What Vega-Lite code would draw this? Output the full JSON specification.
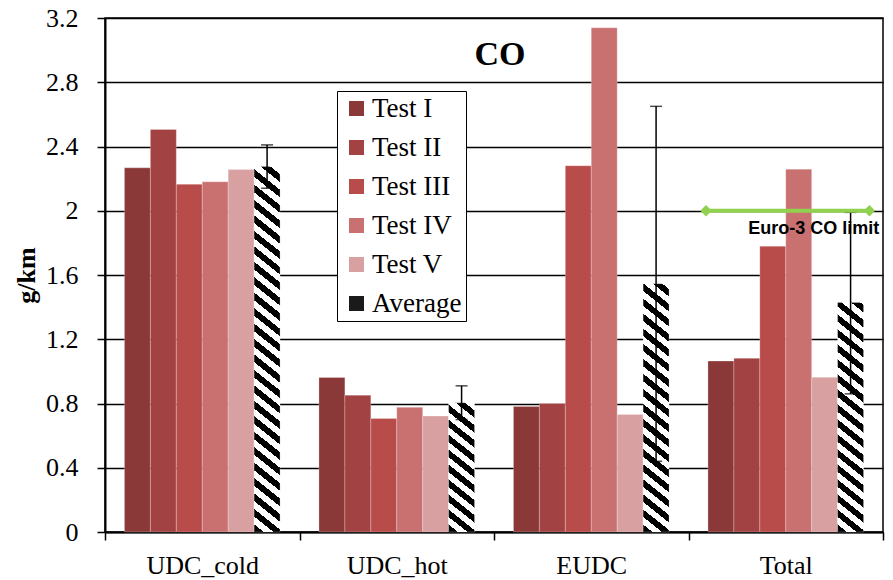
{
  "$schema": "https://vega.github.io/schema/vega-lite/v6.json",
  "width": 778,
  "height": 514,
  "autosize": {"type": "none"},
  "padding": {"left": 105, "top": 18, "right": 10, "bottom": 48},
  "background": "white",
  "config": {
    "view": {"stroke": "black", "strokeWidth": 1.5},
    "font": "Liberation Serif",
    "axis": {"labelFont": "Liberation Serif", "labelFontSize": 26, "labelColor": "black", "titleFont": "Liberation Serif", "titleColor": "black"},
    "axisY": {"labelFont": "Liberation Serif"}
  },
  "title": {"text": "CO", "font": "Liberation Serif", "fontSize": 34, "fontWeight": "bold", "color": "black", "anchor": "middle", "frame": "group", "offset": -94, "baseline": "alphabetic", "dx": 6},
  "datasets": {
    "bars": [
      {"cat": "UDC_cold", "test": "Test I", "value": 2.267},
      {"cat": "UDC_cold", "test": "Test II", "value": 2.506},
      {"cat": "UDC_cold", "test": "Test III", "value": 2.165},
      {"cat": "UDC_cold", "test": "Test IV", "value": 2.18},
      {"cat": "UDC_cold", "test": "Test V", "value": 2.257},
      {"cat": "UDC_cold", "test": "Average", "value": 2.275, "lo": 2.14, "hi": 2.41},
      {"cat": "UDC_hot", "test": "Test I", "value": 0.962},
      {"cat": "UDC_hot", "test": "Test II", "value": 0.852},
      {"cat": "UDC_hot", "test": "Test III", "value": 0.707},
      {"cat": "UDC_hot", "test": "Test IV", "value": 0.776},
      {"cat": "UDC_hot", "test": "Test V", "value": 0.722},
      {"cat": "UDC_hot", "test": "Average", "value": 0.804, "lo": 0.70, "hi": 0.91},
      {"cat": "EUDC", "test": "Test I", "value": 0.782},
      {"cat": "EUDC", "test": "Test II", "value": 0.80},
      {"cat": "EUDC", "test": "Test III", "value": 2.28},
      {"cat": "EUDC", "test": "Test IV", "value": 3.139},
      {"cat": "EUDC", "test": "Test V", "value": 0.732},
      {"cat": "EUDC", "test": "Average", "value": 1.546, "lo": 0.44, "hi": 2.65},
      {"cat": "Total", "test": "Test I", "value": 1.064},
      {"cat": "Total", "test": "Test II", "value": 1.081},
      {"cat": "Total", "test": "Test III", "value": 1.779},
      {"cat": "Total", "test": "Test IV", "value": 2.259},
      {"cat": "Total", "test": "Test V", "value": 0.963},
      {"cat": "Total", "test": "Average", "value": 1.429, "lo": 0.86, "hi": 1.99}
    ],
    "limit": [
      {"cat": "Total", "v": 2.0, "label": "Euro-3 CO limit"}
    ]
  },
  "layer": [
    {
      "data": {"name": "bars"},
      "mark": {"type": "bar", "stroke": "white", "strokeWidth": 0.5, "strokeOpacity": 0.5},
      "encoding": {
        "x": {
          "field": "cat", "type": "nominal", "sort": ["UDC_cold", "UDC_hot", "EUDC", "Total"],
          "scale": {"domain": ["UDC_cold", "UDC_hot", "EUDC", "Total"], "paddingInner": 0, "paddingOuter": 0},
          "axis": {"title": null, "labelAngle": 0, "labelFont": "Liberation Serif", "labelFontSize": 26, "labelColor": "black", "labelPadding": 12, "tickBand": "extent", "tickSize": 8, "tickColor": "black", "tickWidth": 1.5, "domainColor": "black", "domainWidth": 2}
        },
        "xOffset": {"field": "test", "type": "nominal", "scale": {"domain": ["Test I", "Test II", "Test III", "Test IV", "Test V", "Average"], "paddingInner": 0, "paddingOuter": 0.75}},
        "y": {
          "field": "value", "type": "quantitative",
          "scale": {"domain": [0, 3.2], "nice": false},
          "axis": {"title": "g/km", "values": [0, 0.4, 0.8, 1.2, 1.6, 2, 2.4, 2.8, 3.2], "format": "~g", "grid": true, "gridColor": "black", "gridWidth": 1.5, "gridOpacity": 1, "domainColor": "black", "domainWidth": 2, "tickColor": "black", "tickSize": 8, "tickWidth": 1.5, "labelFont": "Liberation Serif", "labelFontSize": 26, "labelColor": "black", "labelPadding": 19, "titleFont": "Liberation Serif", "titleFontSize": 26, "titleFontWeight": "bold", "titleColor": "black", "titlePadding": 6}
        },
        "fill": {
          "field": "test", "type": "nominal",
          "scale": {"domain": ["Test I", "Test II", "Test III", "Test IV", "Test V", "Average"], "range": ["#8A3838", "#A34242", "#B84C4A", "#C97171", "#D8A0A0", "#1a1a1a"]},
          "legend": {"title": null, "orient": "none", "legendX": 232, "legendY": 73, "strokeColor": "black", "fillColor": "white", "padding": 4, "labelFont": "Liberation Serif", "labelFontSize": 27, "labelColor": "black", "labelOffset": 2, "symbolOffset": 2, "symbolType": "square", "symbolSize": 225, "symbolStrokeWidth": 0, "rowPadding": 11,
            "encode": {
              "legend": {"update": {"strokeWidth": {"value": 1.5}}}
            }},
          "condition": [
            {"test": "datum.test==='Average'&&datum.cat==='UDC_cold'", "value": {"gradient": "linear", "x1": 0, "y1": 1, "x2": 0.0597, "y2": -0.0533, "stops": [
              {"offset": 0, "color": "#000"}, {"offset": 0.02, "color": "#000"}, {"offset": 0.02, "color": "#fff"}, {"offset": 0.04, "color": "#fff"},
              {"offset": 0.04, "color": "#000"}, {"offset": 0.06, "color": "#000"}, {"offset": 0.06, "color": "#fff"}, {"offset": 0.08, "color": "#fff"},
              {"offset": 0.08, "color": "#000"}, {"offset": 0.1, "color": "#000"}, {"offset": 0.1, "color": "#fff"}, {"offset": 0.12, "color": "#fff"},
              {"offset": 0.12, "color": "#000"}, {"offset": 0.14, "color": "#000"}, {"offset": 0.14, "color": "#fff"}, {"offset": 0.16, "color": "#fff"},
              {"offset": 0.16, "color": "#000"}, {"offset": 0.18, "color": "#000"}, {"offset": 0.18, "color": "#fff"}, {"offset": 0.2, "color": "#fff"},
              {"offset": 0.2, "color": "#000"}, {"offset": 0.22, "color": "#000"}, {"offset": 0.22, "color": "#fff"}, {"offset": 0.24, "color": "#fff"},
              {"offset": 0.24, "color": "#000"}, {"offset": 0.26, "color": "#000"}, {"offset": 0.26, "color": "#fff"}, {"offset": 0.28, "color": "#fff"},
              {"offset": 0.28, "color": "#000"}, {"offset": 0.3, "color": "#000"}, {"offset": 0.3, "color": "#fff"}, {"offset": 0.32, "color": "#fff"},
              {"offset": 0.32, "color": "#000"}, {"offset": 0.34, "color": "#000"}, {"offset": 0.34, "color": "#fff"}, {"offset": 0.36, "color": "#fff"},
              {"offset": 0.36, "color": "#000"}, {"offset": 0.38, "color": "#000"}, {"offset": 0.38, "color": "#fff"}, {"offset": 0.4, "color": "#fff"},
              {"offset": 0.4, "color": "#000"}, {"offset": 0.42, "color": "#000"}, {"offset": 0.42, "color": "#fff"}, {"offset": 0.44, "color": "#fff"},
              {"offset": 0.44, "color": "#000"}, {"offset": 0.46, "color": "#000"}, {"offset": 0.46, "color": "#fff"}, {"offset": 0.48, "color": "#fff"},
              {"offset": 0.48, "color": "#000"}, {"offset": 0.5, "color": "#000"}, {"offset": 0.5, "color": "#fff"}, {"offset": 0.52, "color": "#fff"},
              {"offset": 0.52, "color": "#000"}, {"offset": 0.54, "color": "#000"}, {"offset": 0.54, "color": "#fff"}, {"offset": 0.56, "color": "#fff"},
              {"offset": 0.56, "color": "#000"}, {"offset": 0.58, "color": "#000"}, {"offset": 0.58, "color": "#fff"}, {"offset": 0.6, "color": "#fff"},
              {"offset": 0.6, "color": "#000"}, {"offset": 0.62, "color": "#000"}, {"offset": 0.62, "color": "#fff"}, {"offset": 0.64, "color": "#fff"},
              {"offset": 0.64, "color": "#000"}, {"offset": 0.66, "color": "#000"}, {"offset": 0.66, "color": "#fff"}, {"offset": 0.68, "color": "#fff"},
              {"offset": 0.68, "color": "#000"}, {"offset": 0.7, "color": "#000"}, {"offset": 0.7, "color": "#fff"}, {"offset": 0.72, "color": "#fff"},
              {"offset": 0.72, "color": "#000"}, {"offset": 0.74, "color": "#000"}, {"offset": 0.74, "color": "#fff"}, {"offset": 0.76, "color": "#fff"},
              {"offset": 0.76, "color": "#000"}, {"offset": 0.78, "color": "#000"}, {"offset": 0.78, "color": "#fff"}, {"offset": 0.8, "color": "#fff"},
              {"offset": 0.8, "color": "#000"}, {"offset": 0.82, "color": "#000"}, {"offset": 0.82, "color": "#fff"}, {"offset": 0.84, "color": "#fff"},
              {"offset": 0.84, "color": "#000"}, {"offset": 0.86, "color": "#000"}, {"offset": 0.86, "color": "#fff"}, {"offset": 0.88, "color": "#fff"},
              {"offset": 0.88, "color": "#000"}, {"offset": 0.9, "color": "#000"}, {"offset": 0.9, "color": "#fff"}, {"offset": 0.92, "color": "#fff"},
              {"offset": 0.92, "color": "#000"}, {"offset": 0.94, "color": "#000"}, {"offset": 0.94, "color": "#fff"}, {"offset": 0.96, "color": "#fff"},
              {"offset": 0.96, "color": "#000"}, {"offset": 0.98, "color": "#000"}, {"offset": 0.98, "color": "#fff"}, {"offset": 1, "color": "#fff"}
            ]}},
            {"test": "datum.test==='Average'&&datum.cat==='UDC_hot'", "value": {"gradient": "linear", "x1": 0, "y1": 1, "x2": 0.1805, "y2": -0.1308, "stops": [
              {"offset": 0, "color": "#000"}, {"offset": 0.05, "color": "#000"}, {"offset": 0.05, "color": "#fff"}, {"offset": 0.1, "color": "#fff"},
              {"offset": 0.1, "color": "#000"}, {"offset": 0.15, "color": "#000"}, {"offset": 0.15, "color": "#fff"}, {"offset": 0.2, "color": "#fff"},
              {"offset": 0.2, "color": "#000"}, {"offset": 0.25, "color": "#000"}, {"offset": 0.25, "color": "#fff"}, {"offset": 0.3, "color": "#fff"},
              {"offset": 0.3, "color": "#000"}, {"offset": 0.35, "color": "#000"}, {"offset": 0.35, "color": "#fff"}, {"offset": 0.4, "color": "#fff"},
              {"offset": 0.4, "color": "#000"}, {"offset": 0.45, "color": "#000"}, {"offset": 0.45, "color": "#fff"}, {"offset": 0.5, "color": "#fff"},
              {"offset": 0.5, "color": "#000"}, {"offset": 0.55, "color": "#000"}, {"offset": 0.55, "color": "#fff"}, {"offset": 0.6, "color": "#fff"},
              {"offset": 0.6, "color": "#000"}, {"offset": 0.65, "color": "#000"}, {"offset": 0.65, "color": "#fff"}, {"offset": 0.7, "color": "#fff"},
              {"offset": 0.7, "color": "#000"}, {"offset": 0.75, "color": "#000"}, {"offset": 0.75, "color": "#fff"}, {"offset": 0.8, "color": "#fff"},
              {"offset": 0.8, "color": "#000"}, {"offset": 0.85, "color": "#000"}, {"offset": 0.85, "color": "#fff"}, {"offset": 0.9, "color": "#fff"},
              {"offset": 0.9, "color": "#000"}, {"offset": 0.95, "color": "#000"}, {"offset": 0.95, "color": "#fff"}, {"offset": 1, "color": "#fff"}
            ]}},
            {"test": "datum.test==='Average'&&datum.cat==='EUDC'", "value": {"gradient": "linear", "x1": 0, "y1": 1, "x2": 0.0898, "y2": -0.076, "stops": [
              {"offset": 0, "color": "#000"}, {"offset": 0.028, "color": "#000"}, {"offset": 0.028, "color": "#fff"}, {"offset": 0.056, "color": "#fff"},
              {"offset": 0.056, "color": "#000"}, {"offset": 0.084, "color": "#000"}, {"offset": 0.084, "color": "#fff"}, {"offset": 0.112, "color": "#fff"},
              {"offset": 0.112, "color": "#000"}, {"offset": 0.14, "color": "#000"}, {"offset": 0.14, "color": "#fff"}, {"offset": 0.168, "color": "#fff"},
              {"offset": 0.168, "color": "#000"}, {"offset": 0.196, "color": "#000"}, {"offset": 0.196, "color": "#fff"}, {"offset": 0.224, "color": "#fff"},
              {"offset": 0.224, "color": "#000"}, {"offset": 0.252, "color": "#000"}, {"offset": 0.252, "color": "#fff"}, {"offset": 0.28, "color": "#fff"},
              {"offset": 0.28, "color": "#000"}, {"offset": 0.308, "color": "#000"}, {"offset": 0.308, "color": "#fff"}, {"offset": 0.336, "color": "#fff"},
              {"offset": 0.336, "color": "#000"}, {"offset": 0.364, "color": "#000"}, {"offset": 0.364, "color": "#fff"}, {"offset": 0.392, "color": "#fff"},
              {"offset": 0.392, "color": "#000"}, {"offset": 0.42, "color": "#000"}, {"offset": 0.42, "color": "#fff"}, {"offset": 0.448, "color": "#fff"},
              {"offset": 0.448, "color": "#000"}, {"offset": 0.476, "color": "#000"}, {"offset": 0.476, "color": "#fff"}, {"offset": 0.504, "color": "#fff"},
              {"offset": 0.504, "color": "#000"}, {"offset": 0.532, "color": "#000"}, {"offset": 0.532, "color": "#fff"}, {"offset": 0.56, "color": "#fff"},
              {"offset": 0.56, "color": "#000"}, {"offset": 0.588, "color": "#000"}, {"offset": 0.588, "color": "#fff"}, {"offset": 0.616, "color": "#fff"},
              {"offset": 0.616, "color": "#000"}, {"offset": 0.644, "color": "#000"}, {"offset": 0.644, "color": "#fff"}, {"offset": 0.672, "color": "#fff"},
              {"offset": 0.672, "color": "#000"}, {"offset": 0.7, "color": "#000"}, {"offset": 0.7, "color": "#fff"}, {"offset": 0.728, "color": "#fff"},
              {"offset": 0.728, "color": "#000"}, {"offset": 0.756, "color": "#000"}, {"offset": 0.756, "color": "#fff"}, {"offset": 0.784, "color": "#fff"},
              {"offset": 0.784, "color": "#000"}, {"offset": 0.812, "color": "#000"}, {"offset": 0.812, "color": "#fff"}, {"offset": 0.84, "color": "#fff"},
              {"offset": 0.84, "color": "#000"}, {"offset": 0.868, "color": "#000"}, {"offset": 0.868, "color": "#fff"}, {"offset": 0.896, "color": "#fff"},
              {"offset": 0.896, "color": "#000"}, {"offset": 0.924, "color": "#000"}, {"offset": 0.924, "color": "#fff"}, {"offset": 0.952, "color": "#fff"},
              {"offset": 0.952, "color": "#000"}, {"offset": 0.98, "color": "#000"}, {"offset": 0.98, "color": "#fff"}, {"offset": 1, "color": "#fff"}
            ]}},
            {"test": "datum.test==='Average'&&datum.cat==='Total'", "value": {"gradient": "linear", "x1": 0, "y1": 1, "x2": 0.0976, "y2": -0.0815, "stops": [
              {"offset": 0, "color": "#000"}, {"offset": 0.03, "color": "#000"}, {"offset": 0.03, "color": "#fff"}, {"offset": 0.06, "color": "#fff"},
              {"offset": 0.06, "color": "#000"}, {"offset": 0.09, "color": "#000"}, {"offset": 0.09, "color": "#fff"}, {"offset": 0.12, "color": "#fff"},
              {"offset": 0.12, "color": "#000"}, {"offset": 0.15, "color": "#000"}, {"offset": 0.15, "color": "#fff"}, {"offset": 0.18, "color": "#fff"},
              {"offset": 0.18, "color": "#000"}, {"offset": 0.21, "color": "#000"}, {"offset": 0.21, "color": "#fff"}, {"offset": 0.24, "color": "#fff"},
              {"offset": 0.24, "color": "#000"}, {"offset": 0.27, "color": "#000"}, {"offset": 0.27, "color": "#fff"}, {"offset": 0.3, "color": "#fff"},
              {"offset": 0.3, "color": "#000"}, {"offset": 0.33, "color": "#000"}, {"offset": 0.33, "color": "#fff"}, {"offset": 0.36, "color": "#fff"},
              {"offset": 0.36, "color": "#000"}, {"offset": 0.39, "color": "#000"}, {"offset": 0.39, "color": "#fff"}, {"offset": 0.42, "color": "#fff"},
              {"offset": 0.42, "color": "#000"}, {"offset": 0.45, "color": "#000"}, {"offset": 0.45, "color": "#fff"}, {"offset": 0.48, "color": "#fff"},
              {"offset": 0.48, "color": "#000"}, {"offset": 0.51, "color": "#000"}, {"offset": 0.51, "color": "#fff"}, {"offset": 0.54, "color": "#fff"},
              {"offset": 0.54, "color": "#000"}, {"offset": 0.57, "color": "#000"}, {"offset": 0.57, "color": "#fff"}, {"offset": 0.6, "color": "#fff"},
              {"offset": 0.6, "color": "#000"}, {"offset": 0.63, "color": "#000"}, {"offset": 0.63, "color": "#fff"}, {"offset": 0.66, "color": "#fff"},
              {"offset": 0.66, "color": "#000"}, {"offset": 0.69, "color": "#000"}, {"offset": 0.69, "color": "#fff"}, {"offset": 0.72, "color": "#fff"},
              {"offset": 0.72, "color": "#000"}, {"offset": 0.75, "color": "#000"}, {"offset": 0.75, "color": "#fff"}, {"offset": 0.78, "color": "#fff"},
              {"offset": 0.78, "color": "#000"}, {"offset": 0.81, "color": "#000"}, {"offset": 0.81, "color": "#fff"}, {"offset": 0.84, "color": "#fff"},
              {"offset": 0.84, "color": "#000"}, {"offset": 0.87, "color": "#000"}, {"offset": 0.87, "color": "#fff"}, {"offset": 0.9, "color": "#fff"},
              {"offset": 0.9, "color": "#000"}, {"offset": 0.93, "color": "#000"}, {"offset": 0.93, "color": "#fff"}, {"offset": 0.96, "color": "#fff"},
              {"offset": 0.96, "color": "#000"}, {"offset": 0.99, "color": "#000"}, {"offset": 0.99, "color": "#fff"}, {"offset": 1, "color": "#fff"}
            ]}}
          ]
        }
      }
    },
    {
      "data": {"name": "bars"},
      "transform": [{"filter": "datum.test === 'Average'"}],
      "mark": {"type": "rule", "color": "black", "strokeWidth": 1.5},
      "encoding": {
        "x": {"field": "cat", "type": "nominal", "sort": ["UDC_cold", "UDC_hot", "EUDC", "Total"]},
        "xOffset": {"field": "test", "type": "nominal", "sort": ["Test I", "Test II", "Test III", "Test IV", "Test V", "Average"]},
        "y": {"field": "lo", "type": "quantitative"},
        "y2": {"field": "hi"}
      }
    },
    {
      "data": {"name": "bars"},
      "transform": [{"filter": "datum.test === 'Average'"}],
      "mark": {"type": "tick", "color": "black", "thickness": 1.5, "size": 12, "orient": "horizontal"},
      "encoding": {
        "x": {"field": "cat", "type": "nominal", "sort": ["UDC_cold", "UDC_hot", "EUDC", "Total"]},
        "xOffset": {"field": "test", "type": "nominal", "sort": ["Test I", "Test II", "Test III", "Test IV", "Test V", "Average"]},
        "y": {"field": "hi", "type": "quantitative"}
      }
    },
    {
      "data": {"name": "bars"},
      "transform": [{"filter": "datum.test === 'Average'"}],
      "mark": {"type": "tick", "color": "black", "thickness": 1.5, "size": 12, "orient": "horizontal"},
      "encoding": {
        "x": {"field": "cat", "type": "nominal", "sort": ["UDC_cold", "UDC_hot", "EUDC", "Total"]},
        "xOffset": {"field": "test", "type": "nominal", "sort": ["Test I", "Test II", "Test III", "Test IV", "Test V", "Average"]},
        "y": {"field": "lo", "type": "quantitative"}
      }
    },
    {
      "data": {"name": "limit"},
      "mark": {"type": "rule", "color": "#92D050", "strokeWidth": 4},
      "encoding": {
        "x": {"field": "cat", "type": "nominal", "sort": ["UDC_cold", "UDC_hot", "EUDC", "Total"], "bandPosition": 0.09},
        "x2": {"field": "cat", "bandPosition": 0.93},
        "y": {"field": "v", "type": "quantitative"}
      }
    },
    {
      "data": {"name": "limit"},
      "mark": {"type": "point", "shape": "diamond", "filled": true, "color": "#92D050", "size": 130, "opacity": 1},
      "encoding": {
        "x": {"field": "cat", "type": "nominal", "sort": ["UDC_cold", "UDC_hot", "EUDC", "Total"], "bandPosition": 0.09},
        "y": {"field": "v", "type": "quantitative"}
      }
    },
    {
      "data": {"name": "limit"},
      "mark": {"type": "point", "shape": "diamond", "filled": true, "color": "#92D050", "size": 130, "opacity": 1},
      "encoding": {
        "x": {"field": "cat", "type": "nominal", "sort": ["UDC_cold", "UDC_hot", "EUDC", "Total"], "bandPosition": 0.93},
        "y": {"field": "v", "type": "quantitative"}
      }
    },
    {
      "data": {"name": "limit"},
      "mark": {"type": "text", "font": "Liberation Sans", "fontSize": 18, "fontWeight": "bold", "color": "black", "baseline": "alphabetic", "align": "center", "dx": 28, "dy": 23},
      "encoding": {
        "x": {"field": "cat", "type": "nominal", "sort": ["UDC_cold", "UDC_hot", "EUDC", "Total"]},
        "y": {"field": "v", "type": "quantitative"},
        "text": {"field": "label"}
      }
    }
  ]
}
